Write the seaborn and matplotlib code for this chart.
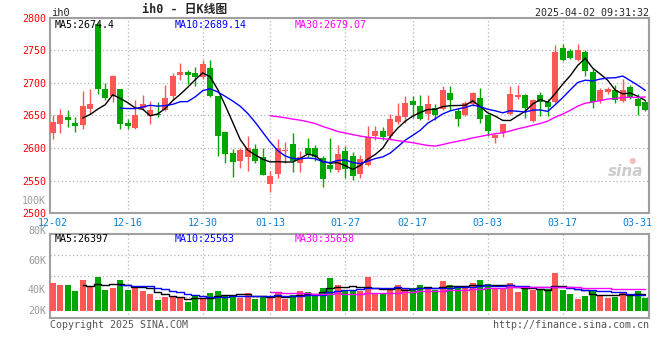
import numpy as np
import pandas as pd
import matplotlib
matplotlib.use('Agg')
import matplotlib.pyplot as plt
import seaborn as sns

# daily bars, 12-02 .. 04-01 (80 trading days)
opens = [2623.5, 2637.2, 2647.0, 2637.8, 2635.0, 2659.7, 2791.0, 2690.0, 2679.6, 2690.0,
         2637.8, 2631.0, 2662.0, 2649.0, 2653.0, 2658.0, 2679.6, 2711.7, 2717.0, 2715.3,
         2709.0, 2722.4, 2679.6, 2624.5, 2591.8, 2580.6, 2586.7, 2598.5, 2586.0, 2545.0,
         2560.0, 2595.0, 2607.0, 2577.5, 2599.5, 2599.5, 2585.0, 2574.0, 2566.3, 2595.4,
         2587.8, 2560.0, 2574.0, 2618.4, 2626.5, 2618.4, 2639.8, 2648.0, 2672.4, 2664.3,
         2653.0, 2661.0, 2660.7, 2684.7, 2657.0, 2650.5, 2667.3, 2677.6, 2650.5, 2615.8,
         2622.5, 2652.0, 2678.6, 2681.0, 2641.8, 2681.0, 2671.0, 2671.0, 2754.0, 2749.0,
         2734.7, 2747.0, 2716.3, 2672.0, 2686.2, 2689.8, 2672.4, 2694.0, 2676.0, 2671.0]
highs = [2650.5, 2660.7, 2659.0, 2647.0, 2687.0, 2690.0, 2794.0, 2700.5, 2711.7, 2690.5,
         2644.0, 2674.5, 2681.0, 2672.0, 2671.0, 2696.4, 2715.8, 2730.6, 2720.4, 2724.5,
         2735.7, 2734.7, 2680.5, 2626.0, 2598.5, 2599.5, 2618.4, 2607.0, 2599.5, 2564.8,
         2614.0, 2609.0, 2623.5, 2596.0, 2616.0, 2604.6, 2588.0, 2614.8, 2604.6, 2603.0,
         2594.4, 2589.0, 2634.0, 2633.7, 2631.6, 2652.0, 2669.4, 2679.6, 2679.6, 2681.0,
         2681.0, 2667.3, 2695.0, 2695.0, 2662.0, 2672.4, 2686.2, 2692.9, 2652.0, 2621.4,
         2637.0, 2695.0, 2696.4, 2682.7, 2675.0, 2686.2, 2676.0, 2757.7, 2760.0, 2752.6,
         2760.0, 2750.0, 2722.0, 2692.9, 2694.0, 2696.4, 2706.6, 2696.4, 2682.7, 2674.5]
lows = [2614.3, 2623.5, 2632.7, 2625.0, 2630.0, 2653.0, 2683.7, 2673.5, 2671.0, 2628.6,
        2628.6, 2629.0, 2658.0, 2636.7, 2647.0, 2656.6, 2673.5, 2704.0, 2699.0, 2695.0,
        2706.6, 2678.6, 2587.8, 2576.5, 2556.0, 2570.0, 2565.0, 2576.5, 2558.5, 2532.0,
        2553.6, 2577.5, 2564.0, 2564.0, 2586.7, 2580.6, 2540.8, 2564.0, 2564.0, 2553.6,
        2551.0, 2554.6, 2572.0, 2612.0, 2612.0, 2612.0, 2636.7, 2638.8, 2645.4, 2643.0,
        2643.0, 2643.0, 2658.0, 2659.0, 2633.7, 2649.0, 2664.3, 2638.8, 2618.4, 2608.0,
        2616.3, 2650.5, 2676.0, 2645.4, 2640.3, 2649.0, 2649.0, 2669.4, 2733.7, 2737.2,
        2733.7, 2710.0, 2662.2, 2669.4, 2682.7, 2669.4, 2671.0, 2676.0, 2650.5, 2657.0]
closes = [2640.3, 2650.0, 2643.0, 2634.0, 2664.0, 2667.0, 2690.8, 2677.0, 2710.0, 2636.7,
          2634.0, 2650.0, 2668.0, 2659.0, 2650.5, 2676.5, 2710.0, 2716.3, 2712.8, 2709.0,
          2728.6, 2680.0, 2619.0, 2590.8, 2579.0, 2597.0, 2599.5, 2580.6, 2559.0, 2557.7,
          2599.5, 2596.5, 2580.6, 2586.7, 2590.8, 2586.7, 2552.0, 2568.4, 2590.8, 2567.3,
          2557.7, 2583.0, 2616.3, 2626.5, 2616.3, 2645.0, 2649.0, 2669.4, 2665.8, 2644.0,
          2667.3, 2651.0, 2689.8, 2673.5, 2645.0, 2669.4, 2684.7, 2645.0, 2626.5, 2619.4,
          2636.7, 2683.7, 2681.0, 2662.2, 2674.5, 2671.0, 2663.3, 2747.4, 2734.7, 2738.8,
          2750.0, 2718.4, 2671.0, 2689.8, 2690.8, 2674.5, 2689.8, 2677.6, 2664.3, 2659.2]
volumes = [46200, 42400, 42400, 32500, 50700, 38400, 55600, 34200, 37500, 50700,
           34200, 39600, 32500, 27600, 17700, 21900, 24300, 20300, 14400, 24300,
           18600, 29700, 33000, 25900, 25900, 20300, 29700, 18600, 24300, 20300,
           29700, 18600, 25900, 33000, 31400, 27600, 38000, 54500, 42400, 34200,
           32500, 33000, 56100, 29700, 27600, 34200, 42400, 35100, 36800, 42400,
           36800, 34200, 49000, 42400, 38000, 37000, 45700, 50700, 44100, 35800,
           35800, 45700, 31400, 37000, 34200, 34200, 35800, 62700, 34200, 27600,
           19300, 24800, 34200, 25900, 21500, 23100, 31400, 25900, 33000, 21500]

date_ticks = ['12-02', '12-16', '12-30', '01-13', '01-27', '02-17', '03-03', '03-17', '03-31']
date_tick_idx = [0, 10, 20, 29, 39, 48, 58, 68, 78]
price_ticks = [2500, 2550, 2600, 2650, 2700, 2750, 2800]
vol_tick_labels = ['100K', '80K', '60K', '40K', '20K']

RED = '#ff5656'
GREEN = '#00a600'
GRID = '#b4b4b4'
BORDER = '#a0a0a0'

sns.set_style('white')
plt.rcParams['font.family'] = ['DejaVu Sans Mono', 'Noto Sans CJK SC']
plt.rcParams['font.size'] = 7

df = pd.DataFrame({'open': opens, 'high': highs, 'low': lows, 'close': closes, 'vol': volumes})
df['x'] = np.arange(len(df))
df['color'] = np.where(df['close'] >= df['open'], RED, GREEN)
for n in (5, 10, 30):
    df[f'ma{n}'] = df['close'].rolling(n).mean()
    df[f'vma{n}'] = df['vol'].rolling(n).mean()

W, H = 660, 360
def box(l, t, r, b):
    return [l / W, 1 - b / H, (r - l) / W, (b - t) / H]

fig = plt.figure(figsize=(W / 100, H / 100), dpi=100)
ax = fig.add_axes(box(50, 17.7, 649, 213.3))
axv = fig.add_axes(box(50, 234.3, 649, 318.3), sharex=ax)

# candles
ax.vlines(df['x'], df['low'], df['high'], colors=df['color'], lw=1, zorder=3)
body = (df['close'] - df['open']).abs().clip(lower=0.8)
ax.bar(df['x'], body, bottom=df[['open', 'close']].min(axis=1), width=0.76,
       color=df['color'], linewidth=0, zorder=4)

for col, c in (('ma5', 'black'), ('ma10', '#0000ff'), ('ma30', '#ff00ff')):
    sns.lineplot(data=df, x='x', y=col, color=c, lw=1, ax=ax, zorder=5)

# volume
axv.bar(df['x'], df['vol'], width=0.8, color=df['color'], linewidth=0, zorder=3)
for col, c in (('vma5', 'black'), ('vma10', '#0000ff'), ('vma30', '#ff00ff')):
    sns.lineplot(data=df, x='x', y=col, color=c, lw=1.0, ax=axv, zorder=5,
                 drawstyle='steps-mid')

ax.set_xlim(-0.36, 79.5)
ax.set_ylim(2500, 2800)
vlo, vhi = -12500, 126000
axv.set_ylim(vlo, vhi)

for a in (ax, axv):
    a.set_xlabel('')
    a.set_ylabel('')
    for s in a.spines.values():
        s.set_color(BORDER)
        s.set_linewidth(1.5)
    for i in date_tick_idx[1:-1]:
        a.axvline(i, color=GRID, lw=0.9, ls=(0, (1, 2)), zorder=1)

ax.set_yticks(price_ticks)
ax.set_yticklabels([str(p) for p in price_ticks], color='#ff0000')
ax.yaxis.grid(True, color=GRID, lw=0.9, ls=(0, (1, 2)))
ax.set_xticks(date_tick_idx)
ax.set_xticklabels(date_ticks, color='#0a7fd4')
ax.tick_params(axis='both', length=0, pad=3, labelsize=7.2)
ax.tick_params(axis='x', pad=3.2)

axv.set_yticks(np.linspace(vlo, vhi, 5)[1:-1])
axv.set_yticklabels([])
axv.yaxis.grid(True, color=GRID, lw=0.9, ls=(0, (1, 2)))
axv.tick_params(axis='both', length=0)
plt.setp(axv.get_xticklabels(), visible=False)

def put(x, y, s, **kw):
    kw.setdefault('fontsize', 7.2)
    kw.setdefault('va', 'center')
    fig.text(x / W, 1 - y / H, s, **kw)

# volume axis labels (sit at their own rows, as in the original)
for lab, y in zip(vol_tick_labels, [200.7, 230.7, 260.7, 290.0, 310.7]):
    put(46, y, lab, ha='right', color='#9a9a9a')

put(51, 12.5, 'ih0', fontsize=7.5)
put(185, 9, 'ih0 - 日K线图', ha='center', fontsize=8.5, fontweight='bold')
put(649, 12.5, '2025-04-02 09:31:32', ha='right')

put(55, 24.5, 'MA5:2674.4', color='black', zorder=2)
put(175, 24.5, 'MA10:2689.14', color='#0000ff')
put(295, 24.5, 'MA30:2679.07', color='#ff00ff')

put(55, 239.5, 'MA5:26397', color='black')
put(175, 239.5, 'MA10:25563', color='#0000ff')
put(295, 239.5, 'MA30:35658', color='#ff00ff')

put(50, 324.5, 'Copyright 2025 SINA.COM', color='#555555')
put(649, 324.5, 'http://finance.sina.com.cn', ha='right', color='#555555')

put(626, 171, 'sina', ha='center', color='#cccccc', fontsize=11,
    fontweight='bold', style='italic', family='DejaVu Sans')
put(632, 160, '●', ha='center', color='#f3c0c0', fontsize=6, family='DejaVu Sans')

fig.savefig('out.png', dpi=100)
